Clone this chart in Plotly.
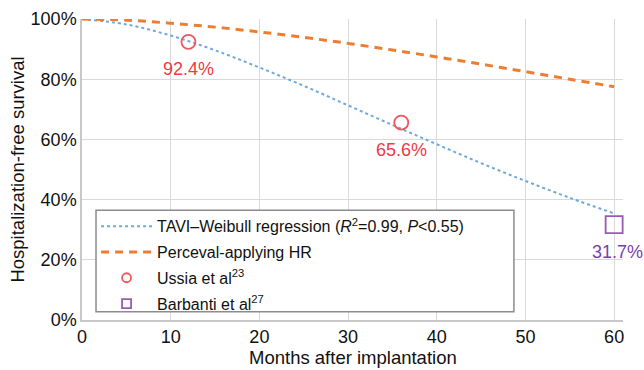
import plotly.graph_objects as go

months = [0, 5, 10, 15, 20, 25, 30, 35, 40, 45, 50, 55, 60]
weibull_pct = [100, 98.2, 94.5, 89.6, 83.9, 77.8, 71.3, 64.8, 58.4, 52.1, 46.2, 40.6, 35.4]
perceval_pct = [100, 99.6, 98.6, 97.3, 95.7, 93.9, 91.9, 89.7, 87.4, 85.0, 82.5, 80.0, 77.5]

ussia_x = [12, 36]
ussia_y = [92.4, 65.6]
barbanti_x = [60]
barbanti_y = [31.7]

y_ticks = [0, 20, 40, 60, 80, 100]
y_labels = ["0%", "20%", "40%", "60%", "80%", "100%"]
x_ticks = [0, 10, 20, 30, 40, 50, 60]

FONT = "Arial, Liberation Sans, sans-serif"
BLUE = "#6fa8dc"
ORANGE = "#ed7d31"
RED = "#ee3a43"
PURPLE = "#7b3fa8"
CIRC = "#f0575e"
SQ = "#9b59b6"

fig = go.Figure()
fig.add_trace(go.Scatter(
    x=months, y=weibull_pct, mode="lines", line_shape="spline", legendgroup="a",
    line=dict(color=BLUE, width=2, dash="dot"),
    name="TAVI\u2013Weibull regression (<i>R</i><sup>2</sup>=0.99, <i>P</i><0.55)"))
fig.add_trace(go.Scatter(
    x=months, y=perceval_pct, mode="lines", line_shape="spline", legendgroup="b",
    line=dict(color=ORANGE, width=3, dash="8px,6px"),
    name="Perceval-applying HR"))
fig.add_trace(go.Scatter(
    x=ussia_x, y=ussia_y, mode="markers", showlegend=False,
    marker=dict(symbol="circle-open", size=14, color=CIRC, line=dict(width=1.8))))
fig.add_trace(go.Scatter(
    x=barbanti_x, y=barbanti_y, mode="markers", cliponaxis=False, showlegend=False,
    marker=dict(symbol="square-open", size=17, color=SQ, line=dict(width=1.8))))
fig.add_trace(go.Scatter(
    x=[None], y=[None], mode="markers", legendgroup="c",
    marker=dict(symbol="circle-open", size=9, color=CIRC, line=dict(width=1.8)),
    name="Ussia et al<sup>23</sup>"))
fig.add_trace(go.Scatter(
    x=[None], y=[None], mode="markers", legendgroup="d",
    marker=dict(symbol="square-open", size=9, color=SQ, line=dict(width=1.8)),
    name="Barbanti et al<sup>27</sup>"))

for xv, yv in zip(ussia_x, ussia_y):
    fig.add_annotation(x=xv, y=yv, text=f"{yv}%", showarrow=False, yshift=-27,
                       font=dict(color=RED, size=18, family=FONT))
for xv, yv in zip(barbanti_x, barbanti_y):
    fig.add_annotation(x=xv, y=yv, text=f"{yv}%", showarrow=False, yshift=-27, xshift=3,
                       font=dict(color=PURPLE, size=18, family=FONT))

# x-axis title
fig.add_annotation(xref="paper", yref="paper", x=0.5, y=-0.126, xanchor="center",
                   yanchor="middle", text="Months after implantation", showarrow=False,
                   font=dict(size=18.5, family=FONT, color="#111111"))

# legend frame
fig.add_shape(type="rect", xref="x", yref="y", x0=1.58, x1=48.7, y0=2.7, y1=36.5,
              layer="above", fillcolor="white", line=dict(color="#8c8c8c", width=1.5))

fig.update_layout(
    width=644, height=370,
    margin=dict(l=82, r=21, t=19, b=50),
    paper_bgcolor="white", plot_bgcolor="white",
    font=dict(family=FONT, size=18, color="#111111"),
    showlegend=True,
    legend=dict(x=0.026, y=0.368, xanchor="left", yanchor="top",
                bgcolor="rgba(0,0,0,0)", borderwidth=0,
                font=dict(size=16, family=FONT, color="#111111"),
                tracegroupgap=2, itemwidth=51),
    xaxis=dict(range=[0, 61], tickvals=x_ticks, showgrid=True, gridcolor="#d9d9d9",
               gridwidth=1, showline=True, linecolor="#c8c8c8", linewidth=1.5,
               zeroline=False, ticks="", tickfont=dict(size=18), automargin=False),
    yaxis=dict(range=[0, 100], tickvals=y_ticks, ticktext=y_labels, showgrid=True,
               gridcolor="#d9d9d9", gridwidth=1, showline=True, linecolor="#c8c8c8",
               linewidth=1.5, zeroline=False, ticks="", tickfont=dict(size=18), automargin=False,
               title=dict(text="Hospitalization-free survival", font=dict(size=18.5), standoff=1)),
)

fig.write_html("out.html", post_script="document.body.style.margin='0';",
               config={"displayModeBar": False})
